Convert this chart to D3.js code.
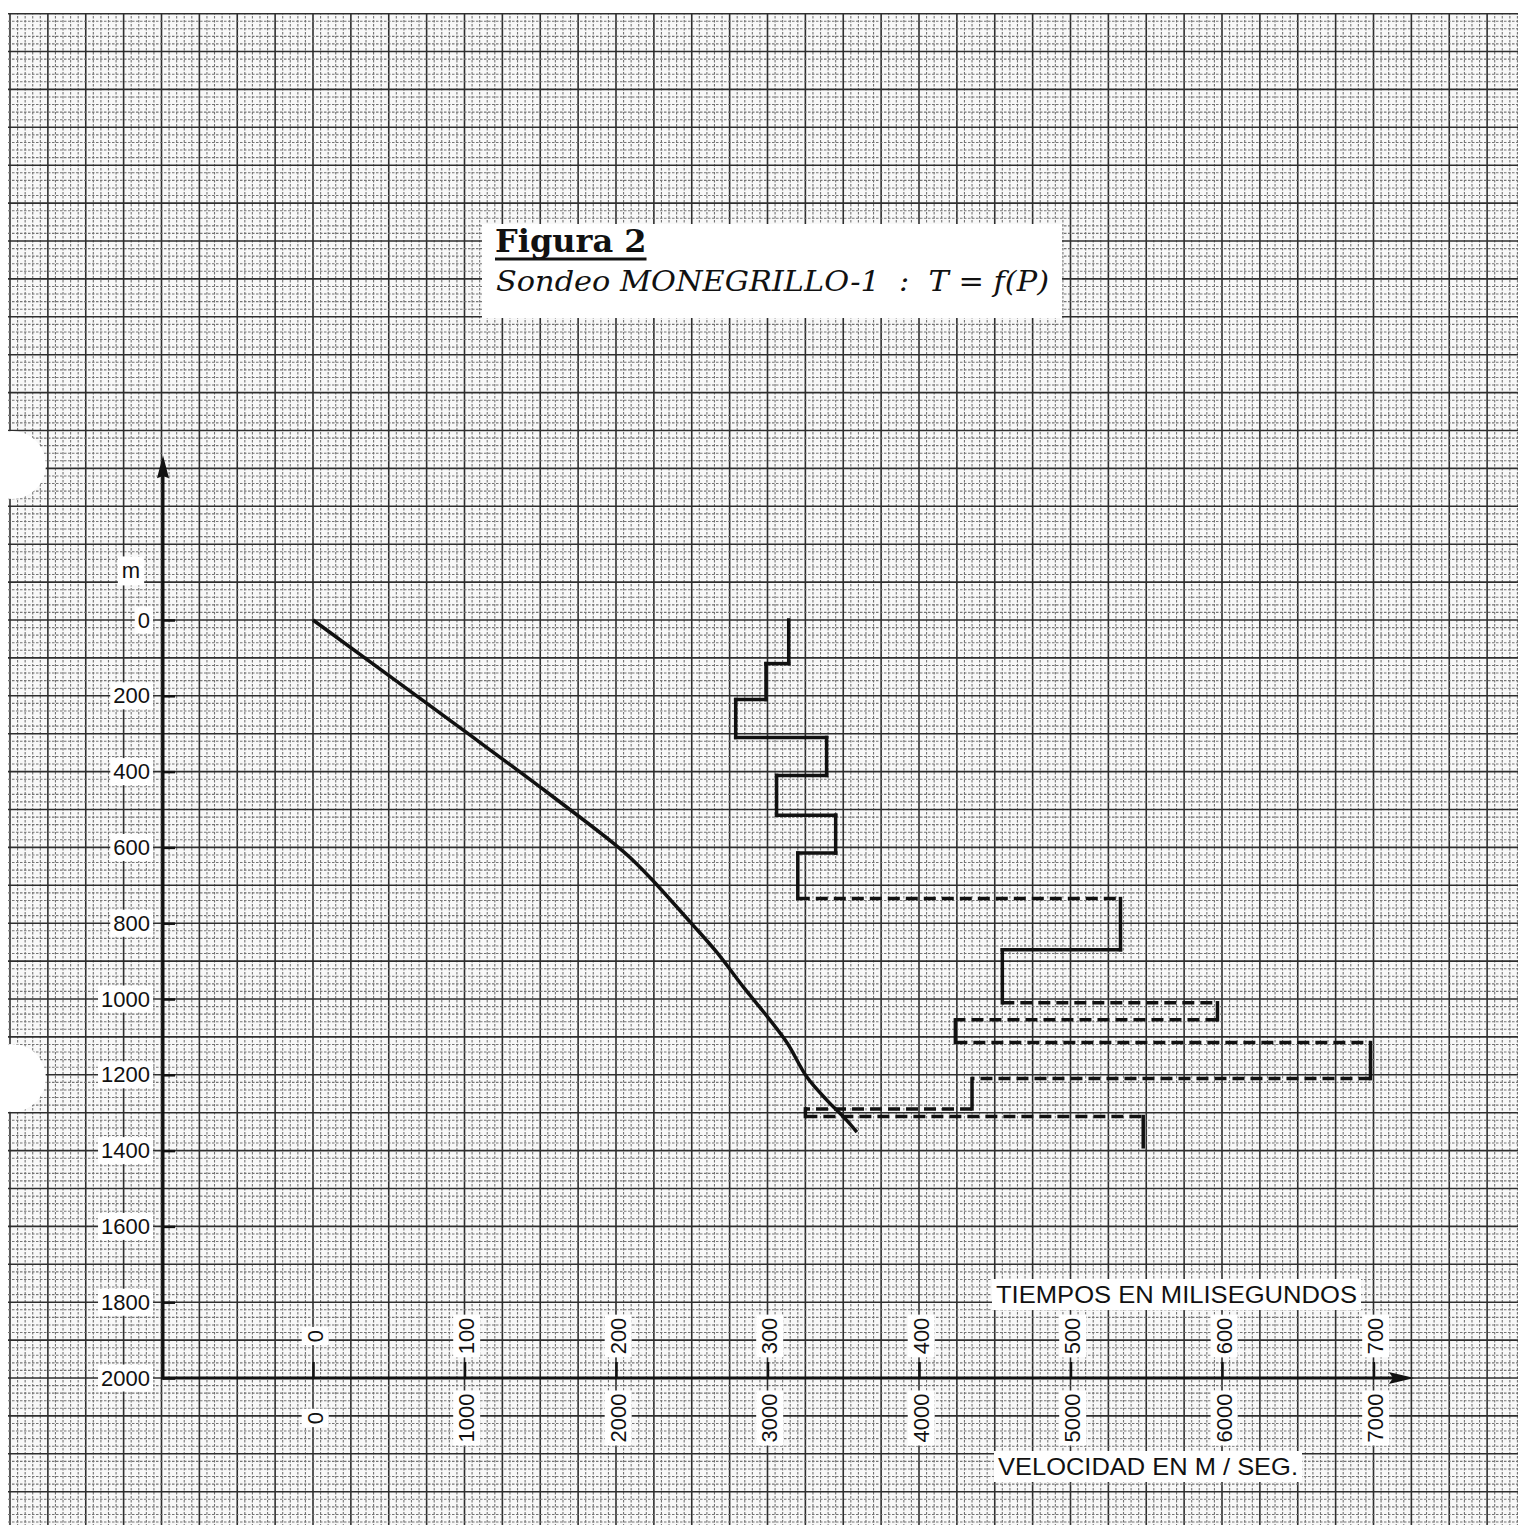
<!DOCTYPE html>
<html lang='es'>
<head>
  <meta charset='UTF-8'>
  <title>Figura 2 - Sondeo MONEGRILLO-1 : T = f(P)</title>
  <style>
  body { margin: 0; background: #fff; }
  svg { display: block; }
  .sans { font-family: 'Liberation Sans', Arial, sans-serif; fill: #111; }
  .tick text { font-family: 'Liberation Sans', Arial, sans-serif; font-size: 22px; fill: #111; }
  .tick line { stroke: #111; stroke-width: 2.5; }
  .minor { stroke: #747474; stroke-width: 1.1; stroke-dasharray: 2.5,1.5; }
  .major { stroke: #2e2e2e; stroke-width: 1.6; }
  .serif { font-family: 'DejaVu Serif', 'Liberation Serif', serif; fill: #111; }
  </style>
  <script src='https://d3js.org/d3.v7.min.js'></script>
</head>
<body>
<script>

// tick labels
var depthTicks = [0, 200, 400, 600, 800, 1000, 1200, 1400, 1600, 1800, 2000];
var timeTicks = [0, 100, 200, 300, 400, 500, 600, 700];
var velTicks = [0, 1000, 2000, 3000, 4000, 5000, 6000, 7000];

// T = f(P) : time (ms) against depth (m)
var curveTime  = [0, 99, 150, 198, 211, 224, 249, 267, 284, 300, 313, 326, 339, 352, 359];
var curveDepth = [0, 290, 441, 588, 633, 686, 797, 879, 968, 1047, 1116, 1206, 1266, 1319, 1351];

// interval velocities (m/s) by layer
var layerTop  = [0, 115, 210, 310, 410, 515, 615, 735, 870, 1010, 1055, 1115, 1210, 1290, 1310];
var layerBase = [115, 210, 310, 410, 515, 615, 735, 870, 1010, 1055, 1115, 1210, 1290, 1310, 1390];
var layerVel  = [3140, 2990, 2790, 3390, 3060, 3450, 3200, 5330, 4550, 5970, 4240, 6980, 4350, 3250, 5480];
// is the step from layer i to layer i+1 drawn dashed
var stepDashed = [false, false, false, false, false, false, true, false, true, true, true, true, true, true];

var W = 1518, H = 1525;
var svg = d3.select('body').append('svg').attr('width', W).attr('height', H);

var xTime = d3.scaleLinear().domain([0, 700]).range([313, 1373.5]);
var xVel = d3.scaleLinear().domain([0, 7000]).range([313, 1373.5]);
var yDepth = d3.scaleLinear().domain([0, 2000]).range([620, 1378]);

// graph paper

svg.append('clipPath').attr('id', 'paper')
  .append('rect').attr('x', 8).attr('y', 13).attr('width', W - 8).attr('height', H - 13);

var paper = svg.append('g').attr('clip-path', 'url(#paper)');
paper.append('rect').attr('x', 8).attr('y', 13).attr('width', W).attr('height', H).attr('fill', '#f8f8f8');

var gx = d3.range(-200, 805, 5);
var gy = d3.range(-1600, 2420, 20);

paper.selectAll('.vx').data(gx).enter().append('line')
  .attr('class', function (d) { return d % 25 === 0 ? 'major' : 'minor'; })
  .attr('x1', function (d) { return xTime(d); }).attr('x2', function (d) { return xTime(d); })
  .attr('y1', 0).attr('y2', H);

paper.selectAll('.hy').data(gy).enter().append('line')
  .attr('class', function (d) { return d % 100 === 0 ? 'major' : 'minor'; })
  .attr('y1', function (d) { return yDepth(d); }).attr('y2', function (d) { return yDepth(d); })
  .attr('x1', 0).attr('x2', W);

// punched holes on the left edge
[465, 1078].forEach(function (cy) {
  svg.append('circle').attr('cx', 12).attr('cy', cy).attr('r', 34).attr('fill', '#fff');
});

// title

var title = svg.append('g');
title.append('rect').attr('x', 482).attr('y', 224).attr('width', 580).attr('height', 94).attr('fill', '#fff');
var fig = title.append('text').attr('class', 'serif')
  .attr('x', 495).attr('y', 252)
  .style('font-size', '32px').style('font-weight', 'bold')
  .text('Figura 2');
var fw = fig.node().getComputedTextLength();
title.append('line').attr('x1', 495).attr('x2', 495 + fw)
  .attr('y1', 259).attr('y2', 259).attr('stroke', '#111').attr('stroke-width', 3);
title.append('text').attr('class', 'serif')
  .attr('x', 496).attr('y', 291)
  .attr('textLength', 553).attr('lengthAdjust', 'spacingAndGlyphs')
  .style('font-size', '28.5px').style('font-style', 'italic').style('white-space', 'pre')
  .text('Sondeo MONEGRILLO-1  :  T = f(P)');

// helper: white patch behind a text node
function patch(sel, pad) {
  sel.each(function () {
    var b = this.getBBox();
    var parent = this.parentNode;
    d3.select(parent).insert('rect', function () { return parent.firstChild; })
      .attr('x', b.x - pad).attr('y', b.y - pad + 2)
      .attr('width', b.width + 2 * pad).attr('height', b.height + 2 * pad - 4)
      .attr('fill', '#fff');
  });
}

// y axis

var yAxis = svg.append('g').attr('transform', 'translate(163,0)')
  .call(d3.axisLeft(yDepth).tickValues(depthTicks).tickSize(-12).tickPadding(13).tickFormat(d3.format('d')));
yAxis.select('.domain').remove();
patch(yAxis.selectAll('.tick text'), 3);

svg.append('line').attr('x1', 163).attr('x2', 163)
  .attr('y1', yDepth(2000) + 1.5).attr('y2', yDepth(-400))
  .attr('stroke', '#111').attr('stroke-width', 3);
svg.append('path')
  .attr('d', 'M163,' + yDepth(-435) + 'L157,' + yDepth(-374) + 'L163,' + yDepth(-380) + 'L169,' + yDepth(-374) + 'Z')
  .attr('fill', '#111');

var mLab = svg.append('g').attr('transform', 'translate(131,' + yDepth(-130) + ')');
mLab.append('text').attr('class', 'sans').attr('text-anchor', 'middle').attr('dy', '0.35em')
  .style('font-size', '22px').text('m');
patch(mLab.selectAll('text'), 4);

// x axis

var xAxis = svg.append('g').attr('transform', 'translate(0,' + yDepth(2000) + ')')
  .call(d3.axisBottom(xTime).tickValues(timeTicks).tickSize(-16).tickFormat(''));
xAxis.select('.domain').remove();

svg.append('line').attr('x1', 161.5).attr('x2', xTime(720))
  .attr('y1', yDepth(2000)).attr('y2', yDepth(2000))
  .attr('stroke', '#111').attr('stroke-width', 3);
var ax = yDepth(2000);
svg.append('path')
  .attr('d', 'M' + xTime(727) + ',' + ax + 'L' + xTime(710) + ',' + (ax - 6) + 'L' + xTime(713) + ',' + ax + 'L' + xTime(710) + ',' + (ax + 6) + 'Z')
  .attr('fill', '#111');

var timeLab = svg.selectAll('.tl').data(timeTicks).enter().append('g')
  .attr('transform', function (d) { return 'translate(' + (xTime(d) + 2) + ',1336) rotate(-90)'; });
timeLab.append('text').attr('class', 'sans').attr('text-anchor', 'middle').attr('dy', '0.35em')
  .style('font-size', '22px').text(function (d) { return d; });
patch(timeLab.selectAll('text'), 3);

var velLab = svg.selectAll('.vl').data(velTicks).enter().append('g')
  .attr('transform', function (d) { return 'translate(' + (xVel(d) + 2) + ',1418) rotate(-90)'; });
velLab.append('text').attr('class', 'sans').attr('text-anchor', 'middle').attr('dy', '0.35em')
  .style('font-size', '22px').text(function (d) { return d; });
patch(velLab.selectAll('text'), 3);

// axis titles

var t1 = svg.append('g');
t1.append('text').attr('class', 'sans').attr('x', 996).attr('y', 1303)
  .attr('textLength', 361).attr('lengthAdjust', 'spacingAndGlyphs')
  .style('font-size', '24.5px').text('TIEMPOS EN MILISEGUNDOS');
patch(t1.selectAll('text'), 4);

var t2 = svg.append('g');
t2.append('text').attr('class', 'sans').attr('x', 998).attr('y', 1475)
  .attr('textLength', 300).attr('lengthAdjust', 'spacingAndGlyphs')
  .style('font-size', '24.5px').text('VELOCIDAD EN M / SEG.');
patch(t2.selectAll('text'), 4);

// time-depth curve

var line = d3.line()
  .x(function (d) { return xTime(d[0]); })
  .y(function (d) { return yDepth(d[1]); })
  .curve(d3.curveCatmullRom.alpha(0.5));

svg.append('path')
  .datum(curveTime.map(function (t, i) { return [t, curveDepth[i]]; }))
  .attr('d', line)
  .attr('fill', 'none').attr('stroke', '#111').attr('stroke-width', 3.5);

// interval velocity steps

var steps = svg.append('g').attr('stroke', '#111').attr('stroke-width', 3.5);

steps.selectAll('.vert').data(layerVel).enter().append('line')
  .attr('x1', function (d) { return xVel(d); }).attr('x2', function (d) { return xVel(d); })
  .attr('y1', function (d, i) { return yDepth(layerTop[i]); })
  .attr('y2', function (d, i) { return yDepth(layerBase[i]); })
  .attr('stroke-linecap', 'square');

steps.selectAll('.horz').data(stepDashed).enter().append('line')
  .attr('x1', function (d, i) { return xVel(layerVel[i]); })
  .attr('x2', function (d, i) { return xVel(layerVel[i + 1]); })
  .attr('y1', function (d, i) { return yDepth(layerBase[i]); })
  .attr('y2', function (d, i) { return yDepth(layerBase[i]); })
  .attr('stroke-dasharray', function (d) { return d ? '12,6' : null; })
  .attr('stroke-linecap', function (d) { return d ? 'butt' : 'square'; });

</script>
</body>
</html>
